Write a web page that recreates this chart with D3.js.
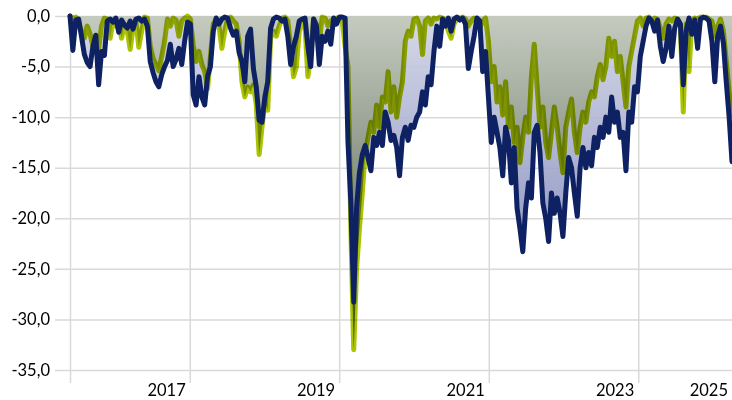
<!DOCTYPE html>
<html lang="en">
<head>
<meta charset="utf-8">
<title>Drawdown</title>
<script src="https://d3js.org/d3.v7.min.js"></script>
<style>
  body { margin: 0; background: #fff; }
  svg { display: block; isolation: isolate; background: #fff; }
  .grid line { stroke: #d9d9d9; stroke-width: 1.5; }
  .grid path { display: none; }
  .grid text, .xlab { font-family: Lato, "Open Sans", sans-serif; font-size: 16.5px; fill: #000; }
</style>
</head>
<body>
<script>
// one value every 14 days, starting end of May 2016
var startDate = new Date(2016, 4, 25);
var stepDays = 14;

var navy = [
  0, -3.4, -0.4, -0.3, -2.0, -3.8, -4.6, -5.0, -3.0, -1.9,
  -6.8, -3.5, -3.9, -0.5, -0.3, -0.6, -0.2, -1.6, -0.4, -0.9,
  -1.2, -0.5, -1.3, -0.3, -0.2, -0.5, -0.3, -1.0, -4.5, -5.6,
  -6.5, -7.0, -5.8, -5.0, -4.4, -2.8, -5.0, -4.3, -3.2, -4.8,
  -2.5, -0.6, -0.8, -7.8, -8.8, -6.0, -8.0, -8.8, -6.0, -5.0,
  -1.5, -0.2, -0.8, -0.3, -0.1, -0.2, -1.2, -1.9, -1.5, -3.6,
  -4.5, -6.5, -2.0, -1.3, -5.2, -7.0, -10.3, -10.5, -8.0, -6.5,
  -1.2, -0.3, -0.1, -0.2, -0.5, -0.3, -2.0, -4.8, -3.0, -2.0,
  -0.5, -0.3, -0.2, -3.0, -5.0, -0.3, -1.0, -4.8, -2.0, -2.5,
  -1.5, -2.8, -0.2, -0.8, -0.1, -0.1, -0.2, -12.5, -18.5, -28.3,
  -19.0, -15.5, -13.7, -12.8, -14.0, -15.3, -12.0, -12.8, -11.5, -12.8,
  -9.5, -10.5, -12.3, -11.8, -13.0, -15.8, -12.0, -11.0, -12.3, -10.8,
  -11.0, -10.0, -9.5, -7.5, -8.8, -6.0, -6.8, -3.5, -1.0, -3.0,
  -0.3, -1.0, -0.2, -1.5, -0.3, -0.1, -0.4, -0.2, -0.8, -5.2,
  -3.5, -2.0, -0.2, -0.5, -5.5, -3.5, -8.0, -12.5, -10.0, -11.5,
  -13.0, -15.8, -11.0, -12.3, -16.5, -13.0, -19.0, -21.0, -23.3, -19.0,
  -16.5, -18.0, -11.5, -10.8, -13.5, -18.5, -20.0, -22.3, -17.5, -19.5,
  -18.0, -19.5, -21.8, -17.5, -14.0, -15.0, -17.5, -19.8, -15.0, -13.0,
  -15.0, -13.5, -14.8, -12.0, -13.0, -11.0, -12.0, -10.0, -11.5, -8.0,
  -10.5, -9.5, -12.0, -11.5, -15.3, -9.5, -10.5, -7.0, -7.5, -4.0,
  -2.5, -1.0, -0.2, -0.5, -1.5, -0.4, -3.0, -4.5, -3.2, -1.0,
  -4.0, -1.2, -0.3, -0.8, -6.8, -1.5, -0.2, -1.8, -0.4, -3.2,
  -0.3, -0.1, -0.2, -0.5, -2.5, -6.5, -2.0, -1.0, -2.7, -6.5, -10.0, -14.4
];

var green = [
  0, -0.2, -0.1, -0.6, -1.5, -2.2, -1.0, -1.8, -3.0, -2.0,
  -3.2, -1.0, -0.2, -0.3, -2.2, -0.5, -1.0, -0.6, -2.2, -0.8,
  -1.5, -3.3, -1.2, -0.5, -3.1, -1.5, -0.1, -0.2, -3.0, -4.2,
  -4.8, -5.4, -4.0, -2.5, -0.3, -1.0, -0.2, -0.4, -2.0, -0.5,
  -0.2, 0, -0.3, -2.9, -4.5, -3.5, -4.8, -5.5, -7.2, -4.0,
  -0.8, -0.3, -1.0, -3.2, -1.5, -0.2, -0.1, -0.5, -0.8, -2.5,
  -6.5, -8.0, -7.0, -7.5, -6.8, -8.8, -13.7, -11.0, -8.5, -9.3,
  -2.2, -1.5, -2.0, -1.0, -0.2, -0.1, -0.5, -3.0, -6.0, -5.0,
  -1.5, -0.5, -1.0, -6.0, -4.0, -0.3, -0.8, -2.5, -0.1, -0.2,
  -1.0, -0.5, -0.3, -0.2, -0.3, -0.5, -3.0, -5.0, -21.0, -33.0,
  -25.0, -21.0, -17.5, -13.5, -12.0, -10.5, -11.5, -8.8, -11.0, -8.0,
  -8.5, -5.5, -9.5, -7.0, -10.0, -8.0, -6.5, -2.5, -1.5, -2.0,
  -0.3, -0.2, -1.0, -3.8, -0.5, -0.2, -0.8, -0.2, -0.3, -0.1,
  -0.2, -0.5, -1.5, -2.2, -0.8, -0.3, -0.2, -0.1, -0.3, -1.0,
  -0.5, -0.2, -0.3, -1.2, -0.5, -0.2, -2.5, -6.5, -5.0, -8.5,
  -7.0, -9.8, -6.5, -11.0, -9.0, -12.5, -11.0, -14.5, -12.0, -10.0,
  -11.5, -6.0, -2.8, -7.0, -11.0, -9.0, -12.5, -14.0, -11.5, -9.0,
  -11.0, -13.5, -15.5, -11.0, -9.5, -8.2, -11.5, -13.5, -11.0, -9.5,
  -10.5, -8.5, -7.5, -8.0, -6.0, -4.8, -6.3, -5.0, -2.2, -4.0,
  -2.5, -5.5, -4.0, -6.5, -9.0, -5.0, -3.5, -2.0, -0.5, -0.2,
  -1.0, -0.2, -0.1, -0.5, -0.2, -0.3, -1.2, -2.2, -0.8, -0.3,
  -0.5, -0.2, -0.3, -1.0, -9.5, -0.8, -5.5, -0.5, -0.2, -0.3,
  -0.1, -0.2, -0.1, -0.3, -0.5, -2.0, -1.0, -0.3, -1.5, -4.5, -7.5, -9.8
];

var yTicks = [0, -5, -10, -15, -20, -25, -30, -35];
var yearEnds = [new Date(2017, 11, 31), new Date(2019, 11, 31), new Date(2021, 11, 31), new Date(2023, 11, 31)];

var W = 732, H = 400;

var dates = navy.map(function(d, i) { return d3.timeDay.offset(startDate, i * stepDays); });
var rows = dates.map(function(d, i) { return {date: d, navy: navy[i], green: green[i]}; });

var x = d3.scaleTime()
    .domain([dates[0], dates[dates.length - 1]])
    .range([70, 732]);

var y = d3.scaleLinear()
    .domain([-35, 0])
    .range([370, 16]);

var de = d3.formatLocale({decimal: ",", thousands: ".", grouping: [3], currency: ["", " €"], minus: "-"});

var svg = d3.select("body").append("svg")
    .attr("width", W)
    .attr("height", H);

var defs = svg.append("defs");

var gGray = defs.append("linearGradient")
    .attr("id", "fillGreen")
    .attr("gradientUnits", "userSpaceOnUse")
    .attr("x1", 0).attr("x2", 0).attr("y1", 16).attr("y2", 355);
gGray.append("stop").attr("offset", 0).attr("stop-color", "#c2c8b8");
gGray.append("stop").attr("offset", 0.5).attr("stop-color", "#7f8a74");
gGray.append("stop").attr("offset", 1).attr("stop-color", "#46543e");

var gBlue = defs.append("linearGradient")
    .attr("id", "fillNavy")
    .attr("gradientUnits", "userSpaceOnUse")
    .attr("x1", 0).attr("x2", 0).attr("y1", 16).attr("y2", 260);
gBlue.append("stop").attr("offset", 0).attr("stop-color", "#d2d5e6");
gBlue.append("stop").attr("offset", 1).attr("stop-color", "#838bbb");

// horizontal grid + value labels
svg.append("g")
    .attr("class", "grid")
    .attr("transform", "translate(55,0)")
    .call(d3.axisLeft(y)
        .tickValues(yTicks)
        .tickSizeInner(-(W - 55))
        .tickSizeOuter(0)
        .tickPadding(5)
        .tickFormat(de.format(".1f")));

// vertical grid
svg.append("g")
    .attr("class", "grid")
    .attr("transform", "translate(0,383)")
    .call(d3.axisBottom(x)
        .tickValues([dates[0]].concat(yearEnds))
        .tickSizeInner(-(383 - 16))
        .tickSizeOuter(0)
        .tickFormat(""));

// year labels sit just left of their tick
svg.selectAll(".xlab")
    .data(yearEnds.concat([dates[dates.length - 1]]))
    .join("text")
    .attr("class", "xlab")
    .attr("x", function(d) { return x(d) - 4; })
    .attr("y", 396)
    .attr("text-anchor", "end")
    .text(d3.timeFormat("%Y"));

var navyArea = d3.area()
    .x(function(d) { return x(d.date); })
    .y0(y(0))
    .y1(function(d) { return y(d.navy); });

var greenArea = d3.area()
    .x(function(d) { return x(d.date); })
    .y0(y(0))
    .y1(function(d) { return y(d.green); });

svg.append("path")
    .datum(rows)
    .attr("d", navyArea)
    .attr("fill", "url(#fillNavy)")
    .attr("fill-opacity", 0.9);

svg.append("path")
    .datum(rows)
    .attr("d", greenArea)
    .attr("fill", "url(#fillGreen)")
    .attr("fill-opacity", 0.85);

svg.append("path")
    .datum(rows)
    .attr("d", d3.line().x(function(d) { return x(d.date); }).y(function(d) { return y(d.green); }))
    .attr("fill", "none")
    .attr("stroke", "#abc300")
    .attr("stroke-width", 5)
    .attr("stroke-linejoin", "round")
    .attr("stroke-linecap", "round")
    .style("mix-blend-mode", "multiply");

svg.append("path")
    .datum(rows)
    .attr("d", d3.line().x(function(d) { return x(d.date); }).y(function(d) { return y(d.navy); }))
    .attr("fill", "none")
    .attr("stroke", "#0e2163")
    .attr("stroke-width", 5)
    .attr("stroke-linejoin", "round")
    .attr("stroke-linecap", "round");
</script>
</body>
</html>
